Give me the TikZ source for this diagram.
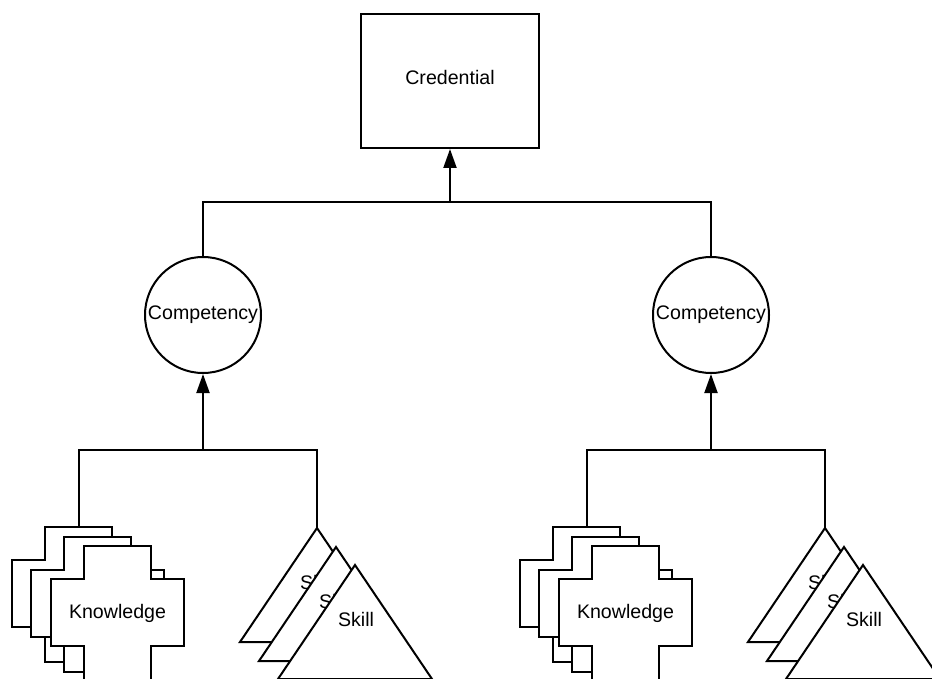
\documentclass[tikz,border=0pt]{standalone}
\usepackage{fontspec}
\setmainfont{Liberation Sans}
\usetikzlibrary{arrows.meta}
\tikzset{
  line/.style={line width=2pt, draw=black},
  arrowtip/.style={-{Triangle[length=19pt,width=13pt]}},
  lbl/.style={inner sep=0pt, text=black},
  box/.style={line, minimum width=178pt, minimum height=134pt, inner sep=0pt, text depth=8pt},
  comp/.style={line, circle, minimum size=116pt, inner sep=0pt},
  kcross/.pic={
    \draw[line, fill=white, line join=miter] (33,0) -- (100,0) -- (100,33) -- (133,33) -- (133,100) -- (100,100) -- (100,135) -- (33,135) -- (33,100) -- (0,100) -- (0,33) -- (33,33) -- cycle;
    \node[lbl] (-txt) at (66.5,67.5) {Knowledge};
    \coordinate (-top) at (67,0);
  },
  skilltri/.pic={
    \draw[line, fill=white, line join=miter] (0,0) -- (77,114) -- (-77,114) -- cycle;
    \node[lbl] (-txt) at (1,54) {Skill};
    \coordinate (-top) at (0,0);
  }
}
\begin{document}
\begin{tikzpicture}[x=1pt, y=-1pt, font=\fontsize{19.6}{23}\selectfont]
\useasboundingbox (0,0) rectangle (932,679);
\clip (0,0) rectangle (932,679);
% top
\node[box] (cred) at (450,81) {Credential};
\node[comp] (c1) at (203,315) {Competency};
\node[comp] (c2) at (711,315) {Competency};
\coordinate (j0) at (450,202);
\draw[line] (c1.north) |- (j0) -| (c2.north);
\draw[line, arrowtip] (j0) -- (cred.south);
% left group
\pic (k1) at (12,527) {kcross};
\pic (k2) at (31,537) {kcross};
\pic (k3) at (51,546) {kcross};
\pic (s1) at (317,528) {skilltri};
\pic (s2) at (336,547) {skilltri};
\pic (s3) at (355,565) {skilltri};
\coordinate (j1) at (203,450);
\draw[line] (k1-top) |- (j1) -| (s1-top);
\draw[line, arrowtip] (j1) -- (c1.south);
% right group
\pic (k4) at (520,527) {kcross};
\pic (k5) at (539,537) {kcross};
\pic (k6) at (559,546) {kcross};
\pic (s4) at (825,528) {skilltri};
\pic (s5) at (844,547) {skilltri};
\pic (s6) at (863,565) {skilltri};
\coordinate (j2) at (711,450);
\draw[line] (k4-top) |- (j2) -| (s4-top);
\draw[line, arrowtip] (j2) -- (c2.south);
\end{tikzpicture}
\end{document}
